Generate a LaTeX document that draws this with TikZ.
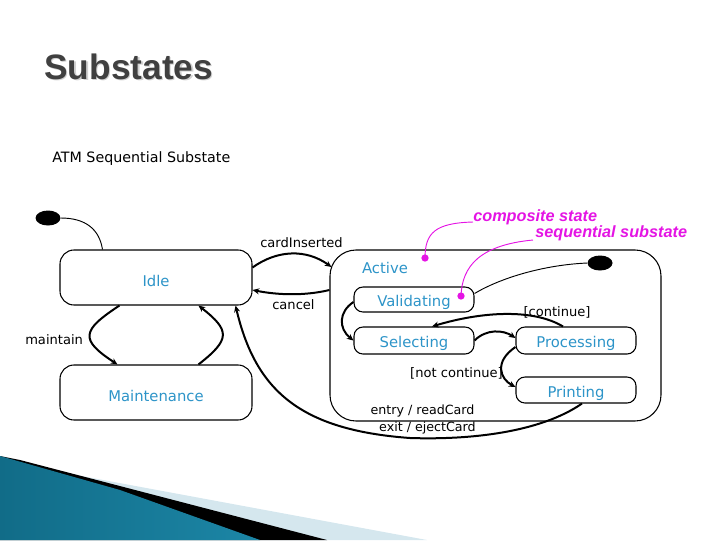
\documentclass[tikz,border=0pt]{standalone}
\usepackage{fontspec}
\setmainfont{DejaVu Sans}
\newfontfamily\titlefont{Liberation Sans}
\newfontfamily\notefont{Liberation Sans}
\usetikzlibrary{arrows.meta,calc,shapes.geometric}
\definecolor{stateblue}{RGB}{45,148,200}
\definecolor{titlegray}{RGB}{64,64,64}
\definecolor{notemag}{RGB}{228,20,228}
\definecolor{decolight}{RGB}{213,231,238}
\definecolor{tealdark}{RGB}{17,108,136}
\definecolor{teallight}{RGB}{80,182,216}
\definecolor{tealmid}{RGB}{28,134,166}
\begin{document}
\begin{tikzpicture}[x=0.75pt,y=-0.75pt,
  statebox/.style={draw, line width=0.8pt, rounded corners=10.5pt, minimum width=144pt,
    minimum height=41.25pt, inner sep=0pt, text=stateblue,
    font=\fontsize{11.1}{13}\selectfont, text height=13.3pt, text depth=0pt},
  substate/.style={statebox, rounded corners=6.75pt, minimum width=90pt,
    minimum height=19.5pt, text height=11.1pt},
  trans/.style={line width=1.5pt, -{Stealth[length=5pt,width=4.5pt]}},
  thinline/.style={line width=0.7pt},
  initdot/.style={ellipse, fill=black, inner sep=0pt, minimum width=18.75pt, minimum height=11.25pt},
  lbl/.style={font=\fontsize{9.8}{12}\selectfont, inner sep=0pt},
  note/.style={anchor=base west, font=\notefont\bfseries\itshape\fontsize{12.2}{14}\selectfont,
    text=notemag, inner sep=0pt},
  notedot/.style={circle, fill=notemag, inner sep=0pt, minimum size=5.5pt},
  noteline/.style={notemag, line width=0.7pt}
]
\useasboundingbox (0,0) rectangle (720,540);

% bottom-left decoration
\fill[decolight] (60,472) -- (427,540) -- (0,540) -- cycle;
\fill[black] (0,456) -- (20,460) -- (327,540) -- (0,540) -- cycle;
\shade[left color=tealdark, middle color=teallight, right color=tealmid]
  (0,456) -- (120,490) -- (260,540) -- (0,540) -- cycle;

% title
\node[anchor=base west, font=\titlefont\bfseries\fontsize{26.5}{30}\selectfont, text=black!18, inner sep=0pt] (titleshadow) at (45.5,80.5) {Substates};
\node[anchor=base west, font=\titlefont\bfseries\fontsize{26.5}{30}\selectfont, text=titlegray, inner sep=0pt] (title) at (44,79) {Substates};
\node[anchor=base west, font=\fontsize{10.7}{13}\selectfont, inner sep=0pt] (atm) at (52,162) {ATM Sequential Substate};

% states
\node[statebox] (idle) at (156,277.5) {Idle};
\node[statebox] (maint) at (156,392.5) {Maintenance};
\node[draw, line width=0.8pt, rounded corners=19.5pt, minimum width=248.25pt,
  minimum height=128.25pt, inner sep=0pt] (active) at (495.5,335.5) {};
\node[anchor=base, text=stateblue, font=\fontsize{11.1}{13}\selectfont, inner sep=0pt] (activelbl) at (385,273) {Active};
\node[substate, minimum height=18.75pt] (valid) at (414,299.5) {Validating};
\node[substate, minimum height=20.25pt] (select) at (414,340.5) {Selecting};
\node[substate, minimum height=20.25pt] (proc) at (576,340.5) {Processing};
\node[substate] (print) at (576,390) {Printing};

% initial states
\node[initdot] (init1) at (48,218) {};
\node[initdot] (init2) at (600,263) {};
\draw[thinline] (init1.east) .. controls +(25,0) and +(-3,-20) .. ($(idle.north west)+(43,0)$);
\draw[thinline] (init2.west) .. controls +(-45,2) and +(25,-15) .. ($(valid.east)+(0,-6)$);

% transitions outside
\draw[trans] ($(idle.south west)+(60,0)$) .. controls +(-38,25) and +(-38,-25) .. ($(maint.north west)+(58,0)$);
\draw[trans] ($(maint.north west)+(139,0)$) .. controls +(32,-25) and +(32,25) .. ($(idle.south west)+(139,0)$);
\draw[trans] ($(idle.east)+(0,-10)$) .. controls +(25,-18) and +(-25,-18) .. ($(active.west)+(2,-68.5)$);
\draw[trans] ($(active.west)+(0,-45.5)$) .. controls +(-25,6) and +(25,5) .. ($(idle.east)+(0,12.5)$);
\coordinate (lowpt) at (410,438);
\draw[trans] ($(print.south)+(6,0)$) .. controls +(-42,29) and +(60,2) .. (lowpt)
  .. controls +(-110,-8) and +(20,85) .. ($(idle.south east)+(-17,0)$);

% transitions inside
\draw[trans] ($(valid.west)+(0,2.5)$) .. controls +(-15,10) and +(-15,-12) .. (select.west);
\draw[trans] (select.east) .. controls +(12,-12) and +(-12,-8) .. ($(proc.west)+(0,-2.5)$);
\draw[trans] ($(proc.north)+(-13,0)$) .. controls +(-30,-18) and +(50,-15) .. ($(select.north)+(18,0)$);
\draw[trans] ($(proc.west)+(0,6.5)$) .. controls +(-22,15) and +(-15,-8) .. ($(print.west)+(0,-3)$);

% labels
\node[lbl, anchor=base west] (cardlbl) at (260,247) {cardInserted};
\node[lbl, anchor=base west] (cancellbl) at (272,309) {cancel};
\node[lbl, anchor=base west] (maintlbl) at (25,344) {maintain};
\node[lbl, anchor=base] (contlbl) at (557,316) {[continue]};
\node[lbl, anchor=base] (notcontlbl) at (456.5,377) {[not continue]};
\node[lbl, anchor=base, font=\fontsize{9.5}{11}\selectfont] (entrylbl) at (422.5,414) {entry / readCard};
\node[lbl, anchor=base, font=\fontsize{9.5}{11}\selectfont] (exitlbl) at (427.5,431) {exit / ejectCard};

% annotations
\node[note] (comp) at (473,221) {composite state};
\node[note] (seq) at (535,237) {sequential substate};
\node[notedot] (dot1) at (425,258) {};
\node[notedot] (dot2) at (461,296) {};
\draw[noteline] ($(comp.base west)+(0,1)$) .. controls +(-38,1) and +(0,-25) .. (dot1.center);
\draw[noteline] ($(seq.base west)+(-2,3)$) .. controls +(-53,5) and +(1,-30) .. (dot2.center);
\end{tikzpicture}
\end{document}
